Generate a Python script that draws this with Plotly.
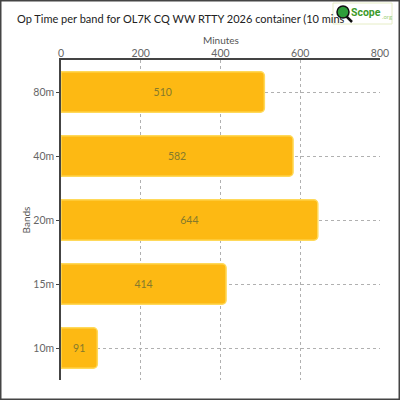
import plotly.graph_objects as go

bands = ["80m", "40m", "20m", "15m", "10m"]
minutes = [510, 582, 644, 414, 91]
x_ticks = [0, 200, 400, 600, 800]
title_text = "Op Time per band for OL7K CQ WW RTTY 2026 container (10 mins"
x_title = "Minutes"
y_title = "Bands"

W, H = 400, 400
L, R, T, B = 61, 20, 60, 20
PW, PH = W - L - R, H - T - B

def px(x):
    return (x - L) / PW

def py(y):
    return (H - B - y) / PH

FONT = "Lato"

fig = go.Figure()
fig.add_trace(go.Bar(
    y=bands, x=minutes, orientation="h",
    marker=dict(color="#FDB913", line=dict(color="#FFD95A", width=1.5), cornerradius=4),
    text=[str(v) for v in minutes], textposition="inside", insidetextanchor="middle",
    textfont=dict(family=FONT, size=10.5, color="#857a2c"),
    width=0.63, hoverinfo="skip",
))

shapes = [
    dict(type="rect", xref="paper", yref="paper", x0=px(0.75), x1=px(399.25), y0=py(0.75), y1=py(399.25),
         line=dict(color="#444444", width=1.5), fillcolor="rgba(0,0,0,0)", layer="above"),
    dict(type="rect", xref="paper", yref="paper", x0=px(333), x1=px(392), y0=py(3), y1=py(24),
         line=dict(color="#e6edc6", width=1), fillcolor="white", layer="above"),
    dict(type="line", xref="paper", yref="paper", x0=px(346.5), x1=px(352), y0=py(16.5), y1=py(22),
         line=dict(color="#111111", width=2.5), layer="above"),
    dict(type="circle", xref="paper", yref="paper", x0=px(337), x1=px(349), y0=py(6), y1=py(18),
         line=dict(color="#111111", width=1.5), fillcolor="#2e9e3a", layer="above"),
]

annotations = [
    dict(text="<b>Scope</b>", xref="paper", yref="paper", x=px(349), y=py(12.5), xanchor="left", yanchor="middle",
         showarrow=False, font=dict(family="Roboto", size=10.5, color="#3c9a2a")),
    dict(text=".org", xref="paper", yref="paper", x=px(380), y=py(16), xanchor="left", yanchor="middle",
         showarrow=False, font=dict(family=FONT, size=6, color="#9fd07a")),
    dict(text=x_title, xref="paper", yref="paper", x=0.5, y=py(40.5), xanchor="center", yanchor="middle",
         showarrow=False, font=dict(family=FONT, size=10, color="#555555")),
]

fig.update_layout(
    width=W, height=H,
    margin=dict(l=L, r=R, t=T, b=B, pad=0),
    paper_bgcolor="white", plot_bgcolor="white",
    showlegend=False,
    bargap=0.37,
    title=dict(text=title_text, xref="container", yref="container", x=17 / W, y=1 - 19 / H,
               xanchor="left", yanchor="middle", font=dict(family=FONT, size=11, color="#222222")),
    xaxis=dict(side="top", range=[0, 800], tickvals=x_ticks, ticktext=[str(t) for t in x_ticks],
               showgrid=True, gridcolor="#b0b0b0", griddash="3px,3px", gridwidth=1,
               showline=True, linecolor="#444444", linewidth=1.5,
               ticks="", ticklabelstandoff=-3,
               tickfont=dict(family=FONT, size=10.5, color="#666666"),
               zeroline=False, fixedrange=True),
    yaxis=dict(autorange="reversed", showgrid=True, gridcolor="#b0b0b0", griddash="3px,3px", gridwidth=1,
               showline=True, linecolor="#444444", linewidth=1.5,
               ticks="outside", ticklen=3, tickcolor="#444444",
               tickfont=dict(family=FONT, size=10.5, color="#666666"),
               title=dict(text=y_title, font=dict(family=FONT, size=10, color="#555555"), standoff=1),
               fixedrange=True),
    shapes=shapes,
    annotations=annotations,
)

fig.write_html("out.html", config={"displayModeBar": False},
               post_script="document.body.style.margin='0';document.body.style.overflow='hidden';")
